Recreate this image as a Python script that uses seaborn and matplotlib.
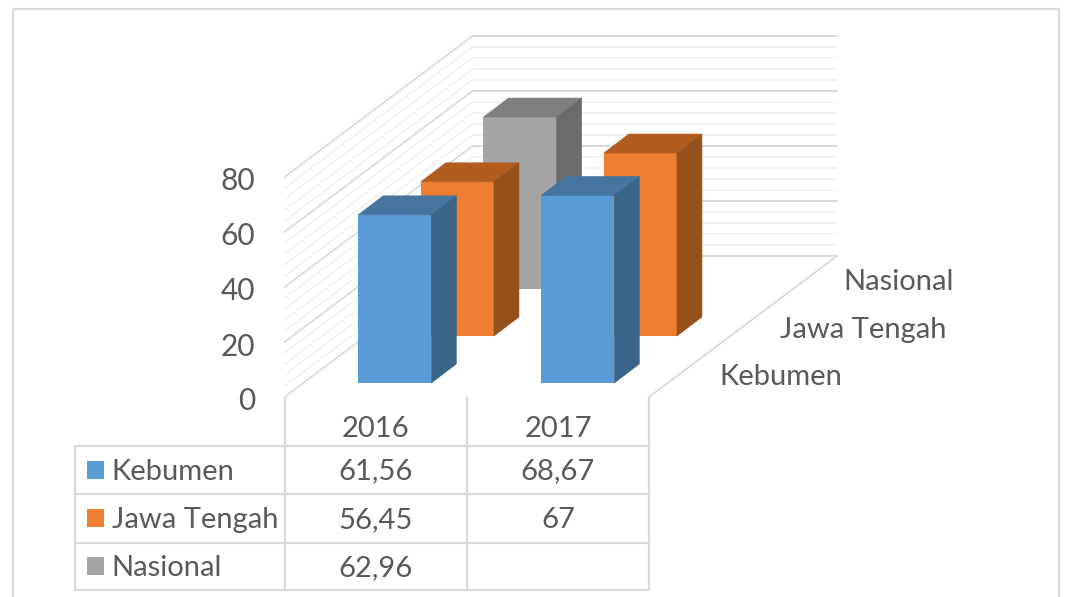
import numpy as np
import pandas as pd
import seaborn as sns
from matplotlib import pyplot as plt
from matplotlib.patches import Polygon, Rectangle

years = ['2016', '2017']
series = ['Kebumen', 'Jawa Tengah', 'Nasional']
kebumen = [61.56, 68.67]
jawa_tengah = [56.45, 67]
nasional = [62.96, np.nan]
valores = [kebumen, jawa_tengah, nasional]

cores_frente = ['#5B9BD5', '#ED7D31', '#A5A5A5']
cores_topo = ['#4675A0', '#B35C20', '#7F7F7F']
cores_lado = ['#3A6488', '#95501C', '#6B6B6B']
cor_texto = '#595959'
major = '#D9D9D9'
minor = '#F0F0F0'

W, H = 1065, 597
x0, x1, y0, alt = 284.5, 649, 397, 220   # plano da frente em pixels
alt_barra = 218.5                        # escala vertical das barras
larg_barra = 366
dx, dy = 62.67, 47                       # deslocamento por serie
prof_x, prof_y = 25, 19                  # profundidade da barra

sns.set_theme(style='white')
plt.rcParams['font.family'] = ['Lato', 'DejaVu Sans']
fig = plt.figure(figsize=(W / 100, H / 100), dpi=100)


def eixo(esq, base, larg, altura):
    ax = fig.add_axes([esq / W, 1 - base / H, larg / W, altura / H])
    ax.patch.set_alpha(0)
    return ax


# camada em pixels: moldura, paredes e tabela
px = eixo(0, H, W, H)
px.set_xlim(0, W)
px.set_ylim(H, 0)
px.axis('off')
px.add_patch(Rectangle((13, 9), 1046, 620, fill=False, ec=major, lw=1.6, clip_on=True))

for v in np.arange(0, 81, 4):
    h = v / 80 * alt
    cor = major if v % 20 == 0 else minor
    px.plot([x0, x0 + 3 * dx], [y0 - h, y0 - h - 3 * dy], color=cor, lw=1.2)
px.plot([x1, x1 + 3 * dx], [y0, y0 - 3 * dy], color=major, lw=1.2)

# parede de tras
fundo = eixo(x0 + 3 * dx, y0 - 3 * dy, x1 - x0, alt)
fundo.set_ylim(0, 80)
fundo.set_yticks(np.arange(0, 81, 20))
fundo.set_yticks(np.arange(0, 81, 4), minor=True)
fundo.set_xticks([])
fundo.tick_params(which='both', length=0, labelleft=False)
fundo.grid(which='minor', axis='y', color=minor, lw=1.2)
fundo.grid(which='major', axis='y', color=major, lw=1.4)
for linha in fundo.get_ygridlines():
    linha.set_clip_on(False)
sns.despine(ax=fundo, left=True, bottom=True)

# eixo y na frente (2 px abaixo so para alinhar os rotulos)
frente = eixo(x0, y0 + 2, x1 - x0, alt)
frente.set_ylim(0, 80)
frente.set_yticks(np.arange(0, 81, 20))
frente.set_xticks([])
frente.tick_params(axis='y', length=0, pad=21, labelsize=21.5, labelcolor=cor_texto)
sns.despine(ax=frente, left=True, bottom=True)

# barras, da serie de tras para a da frente
larg_cat = larg_barra / 2
for i in [2, 1, 0]:
    ox = 18.7 + dx * i
    oy = 14 + dy * i
    ax = eixo(x0 + ox, y0 - oy, larg_barra, alt_barra)
    ax.set_zorder(10 - i)
    df = pd.DataFrame({'ano': years, 'valor': valores[i]})
    sns.barplot(data=df, x='ano', y='valor', order=years, width=0.4, color=cores_frente[i],
                saturation=1, linewidth=0, errorbar=None, ax=ax)
    ax.set_xlim(-0.5, 1.5)
    ax.set_ylim(0, 80)
    ax.axis('off')
    ddx = prof_x / larg_cat
    ddy = prof_y / alt_barra * 80
    for bar in list(ax.patches):
        h = bar.get_height()
        if not np.isfinite(h) or h == 0:
            continue
        a = bar.get_x()
        b = a + bar.get_width()
        ax.add_patch(Polygon([(a, h), (b, h), (b + ddx, h + ddy), (a + ddx, h + ddy)],
                             fc=cores_topo[i], ec=cores_topo[i], lw=0.4, clip_on=False))
        ax.add_patch(Polygon([(b, 0), (b + ddx, ddy), (b + ddx, h + ddy), (b, h)],
                             fc=cores_lado[i], ec=cores_lado[i], lw=0.4, clip_on=False))

# nomes das series no eixo de profundidade
fonte = dict(color=cor_texto, fontsize=21, va='center')
nomes_x = [842, 946, 954]
nomes_y = [377, 330, 282]
for nome, xn, yn in zip(series, nomes_x, nomes_y):
    px.text(xn, yn, nome, ha='right', **fonte)

# tabela de dados
col_x = [x0, 467, x1]
lin_y = [446, 494, 542.5, 590]
tab_esq = 75
for xc in col_x:
    px.plot([xc, xc], [y0, lin_y[-1]], color=major, lw=1.6)
px.plot([tab_esq, tab_esq], [lin_y[0], lin_y[-1]], color=major, lw=1.6)
for yl in lin_y:
    px.plot([tab_esq, x1], [yl, yl], color=major, lw=1.6)

centros = [(col_x[0] + col_x[1]) / 2 - 0.5, (col_x[1] + col_x[2]) / 2]
for xc, ano in zip(centros, years):
    px.text(xc, 429, ano, ha='center', **fonte)

for i, nome in enumerate(series):
    yc = (lin_y[i] + lin_y[i + 1]) / 2
    px.add_patch(Rectangle((87, yc - 9), 17, 18, fc=cores_frente[i], ec='none'))
    px.text(111.5, yc + 1.5, nome, ha='left', **fonte)
    for xc, v in zip(centros, valores[i]):
        txt = '' if np.isnan(v) else f'{v:g}'.replace('.', ',')
        px.text(xc, yc + 1.5, txt, ha='center', **fonte)

fig.savefig('out.png', dpi=100, facecolor='white')
